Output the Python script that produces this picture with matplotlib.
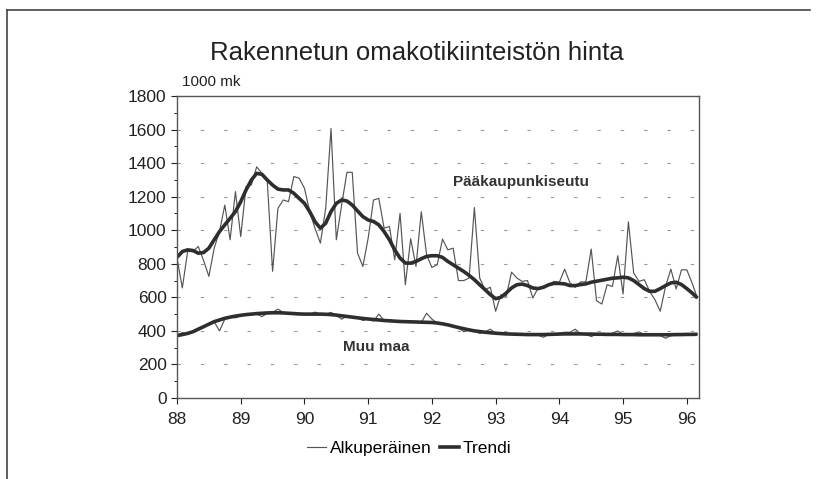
import numpy as np
import matplotlib
matplotlib.use("Agg")
import matplotlib.pyplot as plt
from matplotlib.lines import Line2D

plt.rcParams['font.family'] = ['Liberation Sans Narrow', 'Liberation Sans', 'DejaVu Sans']

# monthly data, Jan 1988 - Mar 1996 (1000 mk)
start_year = 88
paakaupunki_alk = [834, 656, 873, 873, 903, 820, 725, 893, 992, 1150, 943, 1230,
                   962, 1260, 1270, 1378, 1339, 1290, 755, 1130, 1180, 1170, 1320, 1310,
                   1250, 1110, 1010, 923, 1130, 1606, 943, 1150, 1345, 1345, 863, 784,
                   953, 1180, 1190, 1012, 1022, 824, 1101, 675, 949, 784, 1110, 853,
                   778, 795, 947, 883, 893, 700, 700, 715, 1135, 715, 645, 660,
                   517, 616, 606, 750, 715, 695, 700, 596, 656, 665, 676, 695,
                   690, 768, 686, 660, 692, 692, 888, 580, 560, 675, 665, 848,
                   620, 1050, 745, 695, 705, 636, 586, 517, 665, 768, 650, 764,
                   764, 685, 596]
paakaupunki_trendi = [838, 873, 883, 879, 863, 867, 893, 943, 992, 1032, 1071, 1111,
                      1170, 1240, 1299, 1339, 1333, 1299, 1269, 1245, 1240, 1240, 1220, 1190,
                      1160, 1110, 1050, 1012, 1042, 1111, 1160, 1180, 1174, 1150, 1115, 1081,
                      1061, 1052, 1032, 992, 943, 883, 834, 804, 804, 814, 830, 844,
                      848, 848, 838, 814, 794, 774, 754, 731, 705, 675, 646, 616,
                      592, 600, 626, 656, 675, 679, 670, 656, 652, 660, 675, 683,
                      683, 680, 670, 670, 676, 680, 690, 696, 702, 708, 714, 716,
                      720, 716, 700, 676, 652, 636, 636, 652, 670, 686, 690, 676,
                      652, 626, 596]
muu_alk = [372, 390, 380, 395, 415, 425, 435, 455, 400, 470, 485, 478,
           490, 495, 500, 500, 485, 505, 510, 530, 510, 505, 503, 498,
           500, 498, 512, 498, 500, 510, 493, 470, 488, 482, 478, 462,
           472, 458, 500, 462, 466, 456, 452, 455, 450, 454, 450, 505,
           470, 447, 440, 438, 428, 420, 395, 405, 400, 385, 394, 410,
           386, 384, 380, 381, 380, 379, 378, 378, 374, 362, 379, 381,
           386, 392, 392, 410, 382, 380, 366, 380, 380, 378, 386, 400,
           379, 378, 384, 394, 378, 377, 377, 372, 356, 372, 377, 380,
           379, 380, 382]
muu_trendi = [372, 378, 385, 395, 410, 425, 440, 455, 465, 475, 482, 488,
              493, 497, 500, 503, 505, 507, 508, 508, 507, 505, 503, 501,
              500, 500, 500, 500, 499, 497, 494, 490, 486, 482, 478, 474,
              471, 468, 465, 462, 460, 458, 456, 455, 454, 453, 452, 451,
              450, 447, 442, 436, 428, 420, 413, 406, 400, 396, 392, 389,
              386, 384, 382, 381, 380, 379, 378, 378, 378, 378, 379, 380,
              381, 382, 382, 382, 382, 381, 381, 380, 380, 379, 379, 379,
              378, 378, 378, 377, 377, 377, 377, 377, 377, 377, 378, 378,
              379, 379, 380]

x = start_year + np.arange(len(paakaupunki_alk)) / 12.0

fig = plt.figure(figsize=(8.18, 4.79), dpi=100)
ax = fig.add_axes([0.2164, 0.1691, 0.638, 0.6305])

thin_c = '#555555'
thick_c = '#2e2e2e'
ax.plot(x, paakaupunki_alk, color=thin_c, lw=0.85)
ax.plot(x, muu_alk, color=thin_c, lw=0.85)
ax.plot(x, paakaupunki_trendi, color=thick_c, lw=2.6, solid_capstyle='butt')
ax.plot(x, muu_trendi, color=thick_c, lw=2.6, solid_capstyle='butt')

ax.set_xlim(88, 96.19)
ax.set_ylim(0, 1800)
ax.set_yticks(range(0, 1801, 200))
ax.set_yticks(range(100, 1800, 200), minor=True)
ax.set_xticks(range(88, 97))
ax.set_xticklabels([str(v) for v in range(88, 97)])
ax.tick_params(axis='both', labelsize=12.5, colors='#222222', direction='out')
ax.tick_params(axis='y', which='major', length=4, width=0.8)
ax.tick_params(axis='y', which='minor', length=2.5, width=0.6)
ax.tick_params(axis='x', length=4, width=0.8, pad=6)
for g in range(200, 1800, 200):
    ax.axhline(g, color='#9a9a9a', lw=0.8, dashes=(3, 18), zorder=0)
for s in ax.spines.values():
    s.set_color('#555555')
    s.set_linewidth(1.0)

fig.text(0.51, 0.89, 'Rakennetun omakotikiinteistön hinta', ha='center', va='center',
         fontsize=18.5, color='#222222')
fig.text(0.222, 0.828, '1000 mk', ha='left', va='center', fontsize=11, color='#222222')
ax.text(93.4, 1290, 'Pääkaupunkiseutu', ha='center', va='center', fontsize=11,
        fontweight='bold', color='#333333')
ax.text(91.12, 304, 'Muu maa', ha='center', va='center', fontsize=11,
        fontweight='bold', color='#333333')

handles = [Line2D([], [], color=thin_c, lw=0.85), Line2D([], [], color=thick_c, lw=2.6)]
fig.legend(handles, ['Alkuperäinen', 'Trendi'], loc='center', bbox_to_anchor=(0.5, 0.063),
           ncol=2, frameon=False, fontsize=12.5, handlelength=1.1, handletextpad=0.2,
           columnspacing=0.5)

# outer frame
fig.add_artist(Line2D([7 / 818, 810 / 818], [1 - 10 / 479, 1 - 10 / 479],
                      transform=fig.transFigure, color='#444444', lw=1.2))
fig.add_artist(Line2D([7 / 818, 7 / 818], [1 - 10 / 479, 0],
                      transform=fig.transFigure, color='#444444', lw=1.2))

fig.savefig('out.png', dpi=100)
